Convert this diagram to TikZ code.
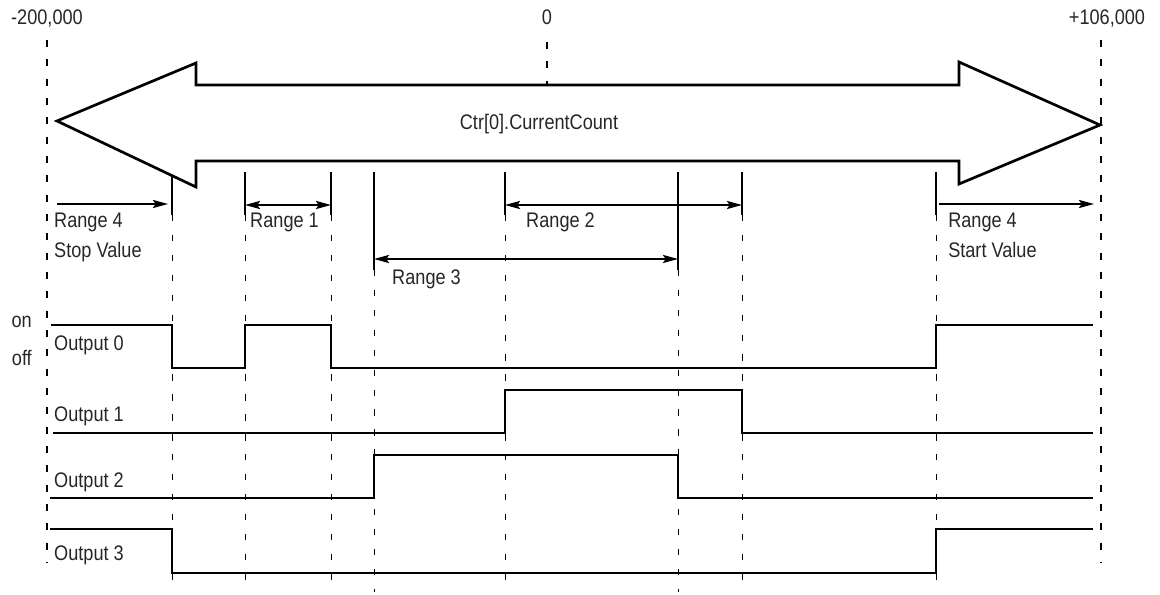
\documentclass[tikz,border=0pt]{standalone}
\usepackage{fontspec}
\setmainfont{Liberation Sans}
\usetikzlibrary{arrows.meta}
\newcommand{\nt}[1]{\scalebox{0.86}[1]{#1}}
\begin{document}
\begin{tikzpicture}[x=0.03cm,y=-0.03cm,
  lbl/.style={font=\fontsize{18}{21}\selectfont, text=black!85, inner sep=0pt, anchor=base west},
  bigdash/.style={line width=1.7pt, dash pattern=on 6pt off 10.5pt},
  smalldash/.style={line width=0.8pt, dash pattern=on 5.5pt off 11.5pt},
  limit/.style={line width=0.9pt},
  sig/.style={line width=1.1pt, line join=miter},
  rng/.style={line width=0.9pt, -{Stealth[length=13pt,width=7pt,inset=2.5pt]}},
  rngb/.style={line width=0.9pt, {Stealth[length=13pt,width=7pt,inset=2.5pt]}-{Stealth[length=13pt,width=7pt,inset=2.5pt]}},
  bigarrow/.style={line width=2.3pt, line join=miter}]
\useasboundingbox (0,0) rectangle (1160,594);

% axis labels
\node[lbl, anchor=base] (lmin) at (47,25) {\nt{-200,000}};
\node[lbl, anchor=base] (lzero) at (547,25) {\nt{0}};
\node[lbl, anchor=base] (lmax) at (1107,25) {\nt{+106,000}};

% outer dashed limits
\draw[bigdash] (47,40) -- (47,562);
\draw[bigdash] (1101,40) -- (1101,562);
\draw[bigdash] (547,42) -- (547,85);

% big double arrow
\draw[bigarrow] (57,121) -- (196,63) -- (196,85) -- (959,85) -- (959,62) -- (1100,125)
  -- (959,184) -- (959,161) -- (196,161) -- (196,187) -- cycle;
\node[lbl, anchor=base] (ctr) at (539,129) {\nt{Ctr[0].CurrentCount}};

% solid limit marks
\draw[limit] (172,176) -- (172,215);
\draw[limit] (245,172) -- (245,215);
\draw[limit] (331,172) -- (331,215);
\draw[limit] (374,172) -- (374,270);
\draw[limit] (505,172) -- (505,215);
\draw[limit] (678,172) -- (678,270);
\draw[limit] (742,172) -- (742,215);
\draw[limit] (936,172) -- (936,215);

% dashed continuations
\foreach \xx in {172,245,331,505,742,936} \draw[smalldash] (\xx,215) -- (\xx,592);
\foreach \xx in {374,678} \draw[smalldash] (\xx,270) -- (\xx,592);

% range arrows
\draw[rng] (57,204) -- (168,204);
\node[lbl] (r4a) at (54,227) {\nt{Range 4}};
\node[lbl] (r4b) at (54,257) {\nt{Stop Value}};

\draw[rngb] (245,205) -- (331,205);
\node[lbl] (r1) at (250,227) {\nt{Range 1}};

\draw[rngb] (505,205) -- (742,205);
\node[lbl] (r2) at (526,227) {\nt{Range 2}};

\draw[rngb] (374,259) -- (678,259);
\node[lbl] (r3) at (392,284) {\nt{Range 3}};

\draw[rng] (939,204) -- (1094,204);
\node[lbl] (r4c) at (948,227) {\nt{Range 4}};
\node[lbl] (r4d) at (948,257) {\nt{Start Value}};

% on / off
\node[lbl, anchor=base east] (on) at (32,327) {\nt{on}};
\node[lbl, anchor=base east] (off) at (32,365) {\nt{off}};

% Output 0
\draw[sig] (51,325) -- (172,325) -- (172,368) -- (245,368) -- (245,325) -- (331,325)
  -- (331,368) -- (936,368) -- (936,325) -- (1093,325);
\node[lbl] (o0) at (54,350) {\nt{Output 0}};

% Output 1
\draw[sig] (53,433) -- (505,433) -- (505,390) -- (742,390) -- (742,433) -- (1093,433);
\node[lbl] (o1) at (54,421) {\nt{Output 1}};

% Output 2
\draw[sig] (50,498) -- (374,498) -- (374,455) -- (678,455) -- (678,498) -- (1093,498);
\node[lbl] (o2) at (54,487) {\nt{Output 2}};

% Output 3
\draw[sig] (50,529) -- (172,529) -- (172,573) -- (936,573) -- (936,529) -- (1093,529);
\node[lbl] (o3) at (54,560) {\nt{Output 3}};
\end{tikzpicture}
\end{document}
